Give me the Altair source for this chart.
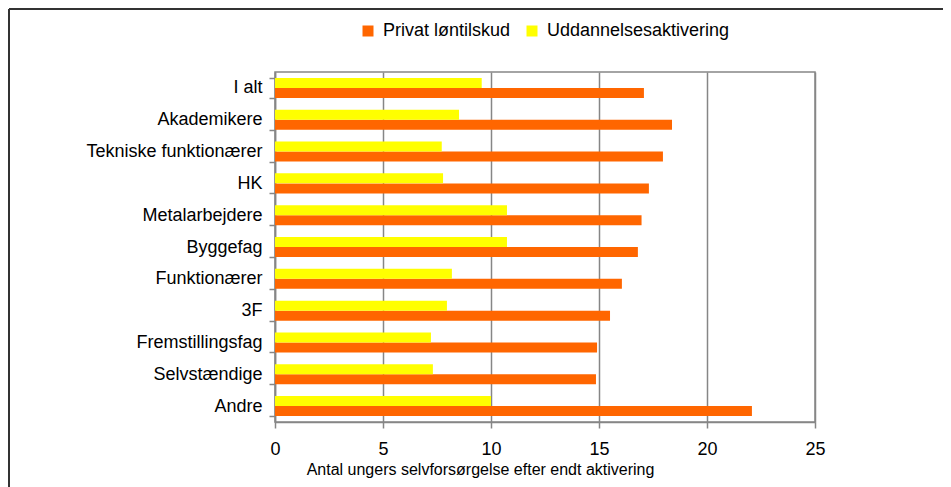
import altair as alt
import pandas as pd

categories = ["I alt", "Akademikere", "Tekniske funktionærer", "HK", "Metalarbejdere",
              "Byggefag", "Funktionærer", "3F", "Fremstillingsfag", "Selvstændige", "Andre"]
privat = [17.08, 18.38, 17.96, 17.31, 16.97, 16.80, 16.06, 15.51, 14.91, 14.86, 22.08]
uddannelse = [9.57, 8.52, 7.72, 7.78, 10.74, 10.74, 8.19, 7.96, 7.22, 7.31, 10.0]
series = ["Privat løntilskud", "Uddannelsesaktivering"]
colors = ["#FF6600", "#FFFF00"]
x_ticks = [0, 5, 10, 15, 20, 25]

rows = []
for c, p, u in zip(categories, privat, uddannelse):
    rows.append({"kategori": c, "serie": series[0], "vaerdi": p})
    rows.append({"kategori": c, "serie": series[1], "vaerdi": u})
df = pd.DataFrame(rows)

FONT = "Liberation Sans"

bars = alt.Chart(df).mark_bar(size=10).encode(
    y=alt.Y("kategori:N", sort=categories,
            scale=alt.Scale(paddingInner=0.37, paddingOuter=0.185),
            axis=alt.Axis(title=None, labelFontSize=18, labelFont=FONT, labelColor="#000000",
                          labelPadding=7, tickSize=6, tickBand="extent", tickColor="#868686",
                          tickWidth=1.5, domainColor="#868686", domainWidth=1.5, grid=False,
                          labelLimit=300)),
    x=alt.X("vaerdi:Q", scale=alt.Scale(domain=[0, 25], nice=False),
            axis=alt.Axis(values=x_ticks, title="Antal ungers selvforsørgelse efter endt aktivering",
                          titleFontSize=16, titleFont=FONT, titleFontWeight="normal",
                          titleColor="#000000", titleX=205, titleY=52, titleAlign="center",
                          titleBaseline="alphabetic",
                          labelFontSize=18, labelFont=FONT, labelColor="#000000",
                          labelFlush=False, labelPadding=12, tickSize=6, tickColor="#868686",
                          tickWidth=1.5, domainColor="#868686", domainWidth=1.5,
                          grid=True, gridColor="#868686", gridWidth=1.5)),
    yOffset=alt.YOffset("serie:N", sort=[series[1], series[0]]),
    color=alt.Color("serie:N", scale=alt.Scale(domain=series, range=colors),
                    legend=alt.Legend(title=None, orient="none", direction="horizontal",
                                      legendX=84, legendY=-50, symbolType="square",
                                      symbolSize=121, symbolStrokeWidth=0,
                                      labelFontSize=18, labelFont=FONT, labelColor="#000000",
                                      labelOffset=6, columnPadding=12, padding=0,
                                      labelLimit=400)),
)

border_df = pd.DataFrame({"a": [0]})
left_line = alt.Chart(border_df).mark_rule(color="#333333", strokeWidth=2).encode(
    x=alt.value(-266), y=alt.value(-63), y2=alt.value(430))
top_line = alt.Chart(border_df).mark_rule(color="#333333", strokeWidth=2).encode(
    x=alt.value(-266), x2=alt.value(700), y=alt.value(-63))

chart = alt.layer(bars, left_line, top_line).properties(
    width=540, height=350,
    padding={"left": 267, "top": 64, "right": 128, "bottom": 65},
    autosize=alt.AutoSizeParams(type="none"),
    background="#ffffff",
).configure_view(stroke="#868686", strokeWidth=1.5)

chart.save("out.html", embed_options={"renderer": "svg", "actions": False})
